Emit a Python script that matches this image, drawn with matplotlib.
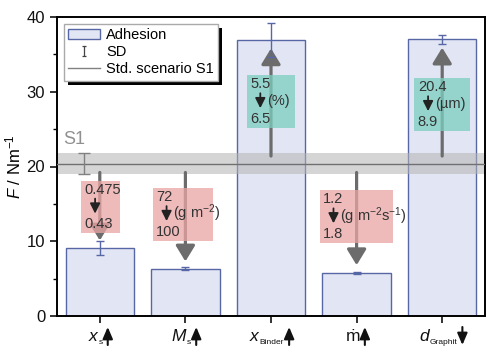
import numpy as np
import matplotlib
matplotlib.use('Agg')
import matplotlib.pyplot as plt
from matplotlib.lines import Line2D
from matplotlib.patches import Patch, Rectangle, FancyArrowPatch
from matplotlib.path import Path
from matplotlib.transforms import IdentityTransform

plt.rcParams['font.family'] = ['Liberation Sans', 'DejaVu Sans']
plt.rcParams['mathtext.fontset'] = 'custom'
plt.rcParams['mathtext.rm'] = 'Liberation Sans'
plt.rcParams['mathtext.it'] = 'Liberation Sans:italic'

# Data
tickMain = ['x', 'M', 'x', 'ṁ', 'd']
tickMainItalic = [True, True, True, False, True]
tickSub = ['s', 's', 'Binder', '', 'Graphit']
tickUp = [True, True, True, True, False]
adhesion = [9.1, 6.3, 36.9, 5.8, 37.0]
adhesionSD = [1.0, 0.2, 2.3, 0.15, 0.6]
s1Mean = 20.4
s1SD = 1.4
fromVals = ['0.475', '72', '5.5', '1.2', '20.4']
toVals = ['0.43', '100', '6.5', '1.8', '8.9']
units = ['', r'(g m$^{-2}$)', '(%)', r'(g m$^{-2}$s$^{-1}$)', '(µm)']

# Layout of the annotation boxes
boxDx = [0.01, -0.03, 0.0, 0.0, 0.0]
boxW = [0.45, 0.70, 0.57, 0.86, 0.65]
boxBottom = [11.1, 10.1, 25.2, 9.8, 24.8]
boxH = 7.0

fig = plt.figure(figsize=(4.96, 3.56), dpi=100)
ax = fig.add_axes([57/496, 1-316/356, 428/496, 299/356])

xPos = np.arange(1, len(adhesion)+1)
barColor = '#e2e6f4'
edgeColor = '#5767a5'
textColor = '#111111'

ax.bar(xPos, adhesion, width=0.8, color=barColor, edgecolor=edgeColor,
       linewidth=1.0, zorder=1)

# Std. scenario band
ax.axhspan(s1Mean-s1SD, s1Mean+s1SD, color='#b4b4b4', alpha=0.55, lw=0, zorder=2)
ax.axhline(s1Mean, color='#707070', lw=1.0, zorder=3)
ax.errorbar([0.82], [s1Mean], yerr=[s1SD], fmt='none', ecolor='#808080',
            elinewidth=1.0, capsize=4, capthick=1.0, zorder=3)
ax.text(0.57, 23.0, 'S1', color='#909090', fontsize=13, zorder=3)

# Big trend arrows
for x, val in zip(xPos, adhesion):
    if val < s1Mean:
        start, tip = s1Mean - 1.2, val + 1.0
    else:
        start, tip = s1Mean + 1.0, val - 1.1
    ax.annotate('', xy=(x, tip), xytext=(x, start),
                arrowprops=dict(arrowstyle='-|>,head_length=0.95,head_width=0.58',
                                lw=2.3, color='#6c6c6c', shrinkA=0, shrinkB=0,
                                mutation_scale=10),
                zorder=4)

ax.errorbar(xPos, adhesion, yerr=adhesionSD, fmt='none', ecolor=edgeColor,
            elinewidth=1.0, capsize=3, capthick=1.0, zorder=5)

# Parameter boxes
for i, x in enumerate(xPos):
    fc = '#e9a3a3' if adhesion[i] < s1Mean else '#7ccfbf'
    yb = boxBottom[i]
    left = x + boxDx[i] - boxW[i]/2
    ax.add_patch(Rectangle((left, yb), boxW[i], boxH, facecolor=fc,
                           alpha=0.75, lw=0, zorder=6))
    tx = left + 0.04
    ax.text(tx, yb + boxH - 1.2, fromVals[i], fontsize=10.5, va='center',
            ha='left', color='#333333', zorder=7)
    ax.text(tx, yb + 1.2, toVals[i], fontsize=10.5, va='center',
            ha='left', color='#333333', zorder=7)
    ax.annotate('', xy=(tx + 0.12, yb + 2.6), xytext=(tx + 0.12, yb + 4.6),
                arrowprops=dict(arrowstyle='-|>,head_length=0.6,head_width=0.3',
                                lw=1.3, color='#222222', shrinkA=0, shrinkB=0,
                                mutation_scale=10),
                zorder=7)
    if units[i]:
        ax.text(tx + 0.2, yb + 3.6, units[i], fontsize=10.5, va='center',
                ha='left', color='#333333', zorder=7)

# Axes styling
ax.set_xlim(0.5, 5.5)
ax.set_ylim(0, 40)
ax.set_yticks([0, 10, 20, 30, 40])
ax.set_yticks([5, 15, 25, 35], minor=True)
ax.set_xticks(xPos)
ax.set_xticklabels([])
ax.tick_params(axis='both', which='major', direction='out', length=5, width=1.2,
               labelsize=12, colors=textColor)
ax.tick_params(axis='y', which='minor', direction='out', length=3, width=1.0)
for sp in ax.spines.values():
    sp.set_linewidth(1.4)
ax.set_ylabel(r'$F$ / Nm$^{-1}$', fontsize=12, labelpad=2)

# Category labels: symbol + small subscript + arrow, centred on the tick
baselinePx = 356 - 341   # baseline in figure pixels (from bottom)
renderer = fig.canvas.get_renderer()
for i, x in enumerate(xPos):
    tickPx = ax.transData.transform((x, 0))[0]
    main = fig.text(0, baselinePx/356, tickMain[i], ha='left', va='baseline',
                    fontsize=12.5, color=textColor,
                    style='italic' if tickMainItalic[i] else 'normal')
    parts = [main]
    mb = main.get_window_extent(renderer)
    endPx = mb.x1
    if tickSub[i]:
        sub = fig.text(0, 0, tickSub[i], ha='left', va='baseline',
                       fontsize=6, color=textColor)
        sub.set_position(((mb.x1 + 1)/496, (baselinePx - 3)/356))
        endPx = sub.get_window_extent(renderer).x1
        parts.append(sub)
    arrowX = endPx + 5
    shift = tickPx - (arrowX + 3)/2
    for p in parts:
        px, py = p.get_position()
        p.set_position((px + shift/496, py))
    axX = arrowX + shift
    lo, hi = baselinePx - 4, baselinePx + 14
    tail, head = (lo, hi) if tickUp[i] else (hi, lo)
    fig.add_artist(FancyArrowPatch(
        (axX/496, tail/356), (axX/496, head/356), transform=fig.transFigure,
        arrowstyle='-|>,head_length=0.7,head_width=0.3', mutation_scale=10,
        lw=1.5, color=textColor, shrinkA=0, shrinkB=0))

# Legend
capPath = Path([(-0.5, 1), (0.5, 1), (0, 1), (0, -1), (-0.5, -1), (0.5, -1)],
               [Path.MOVETO, Path.LINETO, Path.MOVETO, Path.LINETO,
                Path.MOVETO, Path.LINETO])
handles = [Patch(facecolor=barColor, edgecolor=edgeColor, lw=1.0),
           Line2D([], [], linestyle='none', marker=capPath, markersize=7,
                  markeredgewidth=0.9, color='#444444'),
           Line2D([], [], color='#808080', lw=1.0)]
leg = ax.legend(handles, ['Adhesion', 'SD', 'Std. scenario S1'],
                loc='upper left', bbox_to_anchor=(7/428, 1 - 7/299),
                borderaxespad=0, fontsize=10.5, fancybox=False, shadow=False,
                framealpha=1, edgecolor='#aaaaaa', borderpad=0.3,
                labelspacing=0.2, handlelength=2.2, handletextpad=0.4)
leg.set_zorder(10)

# Hard black drop shadow behind the legend frame
fig.canvas.draw()
bb = leg.get_frame().get_window_extent(fig.canvas.get_renderer())
ax.add_patch(Rectangle((bb.x0 + 4, bb.y0 - 4), bb.width, bb.height,
                       transform=IdentityTransform(), facecolor='black',
                       lw=0, clip_on=False, zorder=9))

fig.savefig('out.png', dpi=100)
